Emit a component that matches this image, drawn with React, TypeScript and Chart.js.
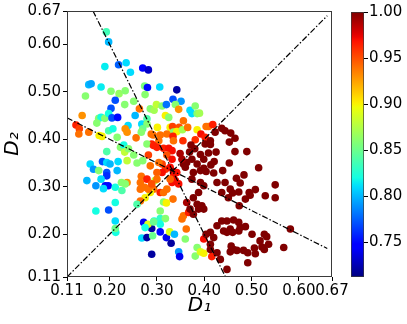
import React, { useEffect, useRef } from 'react';
import { Chart, registerables } from 'chart.js';

Chart.register(...registerables);

// ---------- axes ----------
const AXIS_MIN = 0.11;
const AXIS_MAX = 0.67;
const X_TICKS = [0.11, 0.2, 0.3, 0.4, 0.5, 0.6, 0.67];
const Y_TICKS = [0.11, 0.2, 0.3, 0.4, 0.5, 0.6, 0.67];
const X_TITLE = 'D₁';
const Y_TITLE = 'D₂';

// ---------- colour bar ----------
const CBAR_MIN = 0.712;
const CBAR_MAX = 1.0;
const CBAR_TICKS = [0.75, 0.8, 0.85, 0.9, 0.95, 1.0];

// ---------- reference lines (endpoints) ----------
const LINE_D1_EQ_D2: [number, number][] = [[0.11, 0.11], [0.66, 0.66]];
const LINE_D1_EQ_D3: [number, number][] = [[0.165, 0.67], [0.445, 0.11]];
const LINE_D2_EQ_D3: [number, number][] = [[0.11, 0.445], [0.66, 0.17]];

// ---------- points: [D1, D2, value] ----------
const UPPER_POINTS: [number, number, number][] = [
  [0.193, 0.626, 0.835], [0.198, 0.605, 0.8], [0.19, 0.553, 0.815], [0.219, 0.557, 0.775],
  [0.235, 0.561, 0.81], [0.244, 0.541, 0.81], [0.27, 0.55, 0.745], [0.282, 0.546, 0.73],
  [0.156, 0.515, 0.8], [0.161, 0.517, 0.795], [0.182, 0.51, 0.815], [0.274, 0.512, 0.855],
  [0.28, 0.509, 0.75], [0.306, 0.51, 0.81], [0.342, 0.504, 0.72], [0.149, 0.491, 0.86],
  [0.203, 0.501, 0.86], [0.22, 0.496, 0.865], [0.233, 0.502, 0.86], [0.212, 0.482, 0.77],
  [0.251, 0.48, 0.86], [0.275, 0.494, 0.86], [0.334, 0.484, 0.77], [0.351, 0.48, 0.79],
  [0.203, 0.465, 0.77], [0.232, 0.473, 0.86], [0.254, 0.45, 0.8], [0.263, 0.464, 0.94],
  [0.286, 0.464, 0.86], [0.294, 0.461, 0.87], [0.299, 0.473, 0.88], [0.311, 0.47, 0.86],
  [0.32, 0.473, 0.78], [0.339, 0.473, 0.86], [0.346, 0.463, 0.93], [0.37, 0.461, 0.81],
  [0.381, 0.47, 0.86], [0.374, 0.454, 0.81], [0.385, 0.454, 0.86], [0.39, 0.455, 0.87],
  [0.318, 0.45, 0.9], [0.325, 0.446, 0.86], [0.356, 0.439, 0.94], [0.177, 0.444, 0.86],
  [0.182, 0.446, 0.82], [0.19, 0.444, 0.86], [0.198, 0.454, 0.82], [0.205, 0.445, 0.77],
  [0.217, 0.446, 0.75], [0.173, 0.434, 0.86], [0.142, 0.45, 0.93], [0.268, 0.432, 0.81],
  [0.279, 0.443, 0.84], [0.279, 0.432, 0.86], [0.27, 0.422, 0.85], [0.239, 0.429, 0.81],
  [0.233, 0.422, 0.93], [0.237, 0.415, 0.93], [0.216, 0.404, 0.86], [0.198, 0.418, 0.84],
  [0.207, 0.422, 0.82], [0.256, 0.403, 0.94], [0.267, 0.415, 0.86], [0.288, 0.411, 0.94],
  [0.129, 0.43, 0.965], [0.136, 0.422, 0.955], [0.135, 0.411, 0.94], [0.156, 0.415, 0.94],
  [0.178, 0.408, 0.9], [0.184, 0.406, 0.9],
];

const MID_POINTS: [number, number, number][] = [
  [0.301, 0.425, 0.9], [0.328, 0.425, 0.9], [0.333, 0.427, 0.955], [0.347, 0.425, 0.95],
  [0.335, 0.415, 0.86], [0.342, 0.416, 0.9], [0.354, 0.42, 0.87], [0.365, 0.425, 0.94],
  [0.385, 0.42, 0.9], [0.404, 0.427, 0.94], [0.409, 0.427, 0.94], [0.418, 0.431, 0.965],
  [0.292, 0.409, 0.94], [0.307, 0.409, 0.94], [0.321, 0.411, 0.94], [0.381, 0.399, 0.96],
  [0.393, 0.411, 0.97], [0.402, 0.404, 0.965], [0.355, 0.397, 0.96], [0.334, 0.406, 0.965],
];

const CENTER_POINTS: [number, number, number][] = [
  [0.289, 0.39, 0.965], [0.304, 0.397, 0.94], [0.335, 0.397, 0.94], [0.3, 0.383, 0.965],
  [0.314, 0.381, 0.965], [0.325, 0.381, 0.97], [0.332, 0.376, 0.97], [0.321, 0.367, 0.95],
  [0.332, 0.358, 0.97], [0.311, 0.348, 0.955], [0.304, 0.351, 0.94], [0.318, 0.337, 0.96],
  [0.328, 0.341, 0.97], [0.335, 0.332, 0.995], [0.342, 0.33, 0.97], [0.335, 0.323, 0.97],
  [0.339, 0.313, 0.97], [0.332, 0.309, 0.97], [0.346, 0.306, 0.97], [0.328, 0.316, 0.945],
  [0.311, 0.33, 0.97], [0.3, 0.33, 0.945], [0.296, 0.313, 0.88], [0.3, 0.316, 0.94],
  [0.293, 0.295, 0.94], [0.286, 0.288, 0.9], [0.307, 0.288, 0.965], [0.314, 0.288, 0.94],
  [0.321, 0.295, 0.94], [0.334, 0.274, 0.94], [0.314, 0.268, 0.86], [0.32, 0.266, 0.9],
  [0.279, 0.39, 0.86], [0.282, 0.367, 0.955], [0.293, 0.387, 0.965], [0.286, 0.344, 0.94],
  [0.267, 0.322, 0.94], [0.265, 0.309, 0.94], [0.265, 0.295, 0.94], [0.274, 0.299, 0.94],
  [0.282, 0.295, 0.94], [0.279, 0.316, 0.965], [0.289, 0.306, 0.95], [0.275, 0.277, 0.9],
  [0.265, 0.27, 0.94], [0.258, 0.263, 0.84], [0.353, 0.232, 0.94], [0.356, 0.239, 0.94],
  [0.367, 0.246, 0.965], [0.362, 0.211, 0.94], [0.399, 0.19, 0.97], [0.416, 0.153, 0.965],
];

const LEFT_POINTS: [number, number, number][] = [
  [0.194, 0.374, 0.84], [0.223, 0.383, 0.86], [0.23, 0.388, 0.82], [0.232, 0.373, 0.88],
  [0.24, 0.38, 0.86], [0.237, 0.355, 0.88], [0.251, 0.367, 0.86], [0.258, 0.35, 0.86],
  [0.27, 0.355, 0.86], [0.159, 0.348, 0.81], [0.166, 0.337, 0.79], [0.177, 0.334, 0.86],
  [0.185, 0.353, 0.77], [0.194, 0.351, 0.81], [0.201, 0.348, 0.8], [0.218, 0.353, 0.81],
  [0.216, 0.334, 0.8], [0.194, 0.33, 0.77], [0.194, 0.323, 0.76], [0.152, 0.313, 0.8],
  [0.171, 0.302, 0.79], [0.182, 0.316, 0.81], [0.191, 0.302, 0.745], [0.197, 0.302, 0.75],
  [0.187, 0.296, 0.81], [0.212, 0.299, 0.82], [0.225, 0.309, 0.86], [0.226, 0.292, 0.84],
  [0.237, 0.309, 0.93], [0.233, 0.306, 0.86], [0.212, 0.267, 0.82], [0.171, 0.249, 0.82],
  [0.198, 0.251, 0.77], [0.212, 0.228, 0.81], [0.213, 0.204, 0.82], [0.212, 0.212, 0.85],
];

const LOWER_POINTS: [number, number, number][] = [
  [0.307, 0.249, 0.86], [0.294, 0.228, 0.82], [0.307, 0.233, 0.83], [0.318, 0.233, 0.86],
  [0.307, 0.221, 0.82], [0.289, 0.212, 0.72], [0.307, 0.205, 0.75], [0.32, 0.193, 0.74],
  [0.327, 0.205, 0.89], [0.337, 0.2, 0.8], [0.33, 0.181, 0.72], [0.36, 0.19, 0.86],
  [0.346, 0.163, 0.79], [0.348, 0.153, 0.74], [0.289, 0.158, 0.72], [0.385, 0.172, 0.86],
  [0.381, 0.154, 0.86], [0.392, 0.163, 0.89], [0.399, 0.16, 0.9], [0.272, 0.225, 0.74],
  [0.281, 0.221, 0.89], [0.275, 0.214, 0.82], [0.293, 0.226, 0.85], [0.268, 0.192, 0.81],
  [0.279, 0.193, 0.72], [0.291, 0.197, 0.85],
];

const DARK_POINTS: [number, number, number][] = [
  [0.423, 0.415, 1], [0.437, 0.423, 1], [0.444, 0.418, 1], [0.456, 0.413, 1],
  [0.465, 0.402, 1], [0.453, 0.394, 1], [0.413, 0.397, 1], [0.413, 0.389, 1],
  [0.372, 0.388, 1], [0.349, 0.37, 0.99], [0.369, 0.373, 1], [0.392, 0.368, 1],
  [0.409, 0.371, 1], [0.425, 0.373, 1], [0.465, 0.374, 1], [0.49, 0.374, 1],
  [0.421, 0.353, 1], [0.453, 0.35, 1], [0.356, 0.348, 1], [0.399, 0.339, 1],
  [0.42, 0.329, 1], [0.439, 0.334, 1], [0.468, 0.318, 1], [0.484, 0.325, 1],
  [0.515, 0.34, 1], [0.476, 0.308, 1], [0.444, 0.309, 1], [0.508, 0.294, 1],
  [0.495, 0.288, 1], [0.497, 0.282, 1], [0.473, 0.289, 1], [0.46, 0.287, 1],
  [0.55, 0.304, 1], [0.529, 0.281, 1], [0.55, 0.277, 1], [0.487, 0.274, 1],
  [0.451, 0.277, 1], [0.474, 0.26, 1], [0.582, 0.211, 1], [0.448, 0.228, 1],
  [0.462, 0.23, 1], [0.473, 0.225, 1], [0.476, 0.214, 1], [0.487, 0.216, 1],
  [0.448, 0.204, 1], [0.46, 0.204, 1], [0.473, 0.207, 1], [0.501, 0.2, 1],
  [0.527, 0.2, 1], [0.532, 0.195, 1], [0.518, 0.186, 1], [0.536, 0.179, 1],
  [0.568, 0.172, 1], [0.457, 0.175, 1], [0.462, 0.168, 1], [0.455, 0.163, 1],
  [0.469, 0.166, 1], [0.483, 0.166, 1], [0.492, 0.161, 1], [0.506, 0.171, 1],
  [0.508, 0.159, 1], [0.522, 0.173, 1], [0.527, 0.168, 1], [0.492, 0.14, 1],
  [0.448, 0.126, 1], [0.399, 0.358, 1], [0.414, 0.346, 1], [0.36, 0.341, 1],
  [0.363, 0.351, 1], [0.385, 0.348, 1], [0.392, 0.334, 1], [0.377, 0.33, 1],
  [0.374, 0.316, 1], [0.392, 0.309, 1], [0.399, 0.302, 1], [0.427, 0.309, 1],
  [0.437, 0.288, 1], [0.455, 0.295, 1], [0.388, 0.288, 1], [0.377, 0.277, 1],
  [0.363, 0.267, 0.99], [0.385, 0.263, 1], [0.395, 0.26, 1], [0.388, 0.253, 1],
  [0.37, 0.253, 1], [0.377, 0.242, 1], [0.399, 0.253, 1], [0.427, 0.218, 1],
  [0.437, 0.228, 1], [0.441, 0.207, 1], [0.455, 0.211, 1], [0.413, 0.204, 1],
  [0.413, 0.179, 1], [0.413, 0.168, 1], [0.427, 0.161, 1], [0.434, 0.147, 1],
  [0.42, 0.193, 1], [0.404, 0.2, 1], [0.404, 0.332, 1], [0.402, 0.39, 1],
  [0.38, 0.38, 1], [0.353, 0.358, 0.99], [0.374, 0.358, 1],
];

const ALL_POINTS = [
  ...UPPER_POINTS, ...MID_POINTS, ...CENTER_POINTS,
  ...LEFT_POINTS, ...LOWER_POINTS, ...DARK_POINTS,
];

// ---------- jet colormap ----------
const JET_R: [number, number][] = [[0, 0], [0.35, 0], [0.66, 1], [0.89, 1], [1, 0.5]];
const JET_G: [number, number][] = [[0, 0], [0.125, 0], [0.375, 1], [0.64, 1], [0.91, 0], [1, 0]];
const JET_B: [number, number][] = [[0, 0.5], [0.11, 1], [0.34, 1], [0.65, 0], [1, 0]];

function interp(pts: [number, number][], t: number): number {
  for (let i = 1; i < pts.length; i++) {
    if (t <= pts[i][0]) {
      const [x0, y0] = pts[i - 1];
      const [x1, y1] = pts[i];
      return y0 + ((y1 - y0) * (t - x0)) / (x1 - x0);
    }
  }
  return pts[pts.length - 1][1];
}

function jet(t: number): string {
  const c = Math.max(0, Math.min(1, t));
  const r = Math.round(interp(JET_R, c) * 255);
  const g = Math.round(interp(JET_G, c) * 255);
  const b = Math.round(interp(JET_B, c) * 255);
  return `rgb(${r},${g},${b})`;
}

const norm = (v: number) => (v - CBAR_MIN) / (CBAR_MAX - CBAR_MIN);

const FONT_FAMILY = "'DejaVu Sans', sans-serif";

const framePlugin = {
  id: 'frame',
  afterDraw(chart: any) {
    const { ctx, chartArea } = chart;
    ctx.save();
    ctx.strokeStyle = '#3a3a3a';
    ctx.lineWidth = 1;
    ctx.strokeRect(
      Math.round(chartArea.left) + 0.5,
      Math.round(chartArea.top) + 0.5,
      Math.round(chartArea.right - chartArea.left) - 1,
      Math.round(chartArea.bottom - chartArea.top) - 1,
    );
    ctx.restore();
  },
};

export default function App() {
  const mainRef = useRef<HTMLCanvasElement | null>(null);
  const cbarRef = useRef<HTMLCanvasElement | null>(null);

  useEffect(() => {
    if (!mainRef.current || !cbarRef.current) return;

    const lineDataset = (pts: [number, number][]) => ({
      type: 'line' as const,
      data: pts.map(([x, y]) => ({ x, y })),
      borderColor: '#000',
      borderWidth: 1.2,
      borderDash: [6, 2, 1.5, 2],
      pointRadius: 0,
      pointHoverRadius: 0,
      fill: false,
      showLine: true,
      tension: 0,
      order: 0,
    });

    const tickFont = { family: FONT_FAMILY, size: 15 };
    const titleFont = { family: FONT_FAMILY, size: 20, style: 'italic' as const };

    const main = new Chart(mainRef.current, {
      type: 'scatter',
      data: {
        datasets: [
          {
            data: ALL_POINTS.map(([x, y]) => ({ x, y })),
            backgroundColor: ALL_POINTS.map((p) => jet(norm(p[2]))),
            borderWidth: 0,
            pointRadius: 3.8,
            pointHoverRadius: 3.8,
            order: 1,
          } as any,
          lineDataset(LINE_D1_EQ_D2) as any,
          lineDataset(LINE_D1_EQ_D3) as any,
          lineDataset(LINE_D2_EQ_D3) as any,
        ],
      },
      options: {
        responsive: false,
        animation: false,
        devicePixelRatio: 1,
        layout: { padding: { left: 0, top: 11, right: 75, bottom: 0 } },
        plugins: { legend: { display: false }, tooltip: { enabled: false } },
        scales: {
          x: {
            type: 'linear',
            min: AXIS_MIN,
            max: AXIS_MAX,
            afterBuildTicks: (axis: any) => {
              axis.ticks = X_TICKS.map((v) => ({ value: v }));
            },
            afterFit: (s: any) => {
              s.height = 47;
            },
            grid: { display: true, drawOnChartArea: false, drawTicks: true, tickLength: 4, color: '#000' },
            border: { display: false },
            ticks: {
              autoSkip: false,
              maxRotation: 0,
              minRotation: 0,
              padding: 1,
              color: '#000',
              font: tickFont,
              callback: (v: any) => Number(v).toFixed(2),
            },
            title: {
              display: true,
              text: X_TITLE,
              color: '#000',
              font: titleFont,
              padding: { top: 0, bottom: 6 },
            },
          },
          y: {
            type: 'linear',
            min: AXIS_MIN,
            max: AXIS_MAX,
            afterBuildTicks: (axis: any) => {
              axis.ticks = Y_TICKS.map((v) => ({ value: v }));
            },
            afterFit: (s: any) => {
              s.width = 67;
            },
            grid: { display: true, drawOnChartArea: false, drawTicks: true, tickLength: 4, color: '#000' },
            border: { display: false },
            ticks: {
              autoSkip: false,
              padding: 2,
              color: '#000',
              font: tickFont,
              callback: (v: any) => Number(v).toFixed(2),
            },
            title: {
              display: true,
              text: Y_TITLE,
              color: '#000',
              font: titleFont,
              padding: { top: 1, bottom: 0 },
            },
          },
        },
      } as any,
      plugins: [framePlugin],
    });

    const cbar = new Chart(cbarRef.current, {
      type: 'bar',
      data: {
        labels: [''],
        datasets: [
          {
            data: [[CBAR_MIN, CBAR_MAX]] as any,
            backgroundColor: (c: any) => {
              const ch = c.chart;
              const ys = ch.scales && ch.scales.y;
              if (!ch.chartArea || !ys) return 'rgb(128,0,0)';
              const g = ch.ctx.createLinearGradient(
                0, ys.getPixelForValue(CBAR_MIN), 0, ys.getPixelForValue(CBAR_MAX),
              );
              for (let i = 0; i <= 64; i++) {
                const t = i / 64;
                g.addColorStop(t, jet(t));
              }
              return g;
            },
            borderColor: '#3a3a3a',
            borderWidth: 1,
            borderSkipped: false,
            barPercentage: 1,
            categoryPercentage: 1,
          } as any,
        ],
      },
      options: {
        responsive: false,
        animation: false,
        devicePixelRatio: 1,
        layout: { padding: { left: 11, top: 12, right: 0, bottom: 47 } },
        plugins: { legend: { display: false }, tooltip: { enabled: false } },
        scales: {
          x: { display: false },
          y: {
            position: 'right',
            min: CBAR_MIN,
            max: CBAR_MAX,
            afterBuildTicks: (axis: any) => {
              axis.ticks = CBAR_TICKS.map((v) => ({ value: v }));
            },
            afterFit: (s: any) => {
              s.width = 43;
            },
            grid: { display: true, drawOnChartArea: false, drawTicks: true, tickLength: 4, color: '#000' },
            border: { display: false },
            ticks: {
              autoSkip: false,
              padding: 1,
              color: '#000',
              font: tickFont,
              callback: (v: any) => Number(v).toFixed(2),
            },
          },
        },
      } as any,
    });

    return () => {
      main.destroy();
      cbar.destroy();
    };
  }, []);

  return (
    <div style={{ position: 'absolute', left: 0, top: 0, width: 407, height: 324, background: '#fff' }}>
      <canvas
        ref={mainRef}
        width={407}
        height={324}
        style={{ position: 'absolute', left: 0, top: 0, width: 407, height: 324 }}
      />
      <canvas
        ref={cbarRef}
        width={67}
        height={324}
        style={{ position: 'absolute', left: 340, top: 0, width: 67, height: 324 }}
      />
    </div>
  );
}
